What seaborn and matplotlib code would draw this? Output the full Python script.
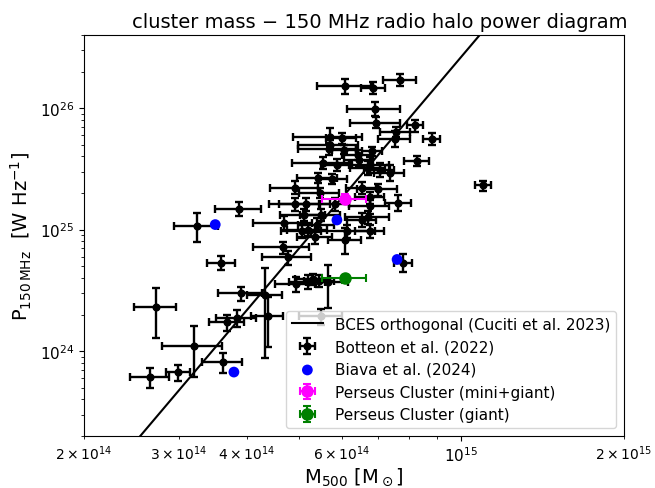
import numpy as np
import pandas as pd
import matplotlib
matplotlib.use("Agg")
import matplotlib.pyplot as plt
import seaborn as sns

plt.rcParams['font.family'] = ['DejaVu Sans']

# Botteon et al. (2022): M500 [1e14 Msun], error, P150 [1e24 W/Hz], error
bot_m = [6.09, 6.86, 7.70, 6.92, 6.95, 8.20, 8.82, 7.55, 7.53, 5.71,
         6.00, 5.71, 6.84, 6.43, 5.68, 6.06, 5.54, 5.88, 6.77, 6.71,
         7.06, 7.37, 8.27, 6.46, 5.43, 5.76, 4.92, 5.47, 6.54, 7.01,
         6.77, 7.63, 6.77, 4.92, 5.15, 5.83, 3.87, 5.10, 5.50, 6.71,
         6.54, 3.24, 4.70, 5.40, 5.07, 5.20, 5.36, 6.14, 6.09, 6.77,
         4.67, 4.77, 3.59, 7.79, 4.94, 5.31, 5.45, 5.66, 5.20, 3.91,
         4.33, 2.72, 3.84, 3.68, 4.38, 3.20, 3.62, 2.99, 2.65, 5.50,
         10.97]
bot_merr = [0.70, 0.35, 0.53, 0.77, 0.74, 0.28, 0.32, 0.48, 0.51, 0.83,
            0.38, 0.73, 0.29, 0.41, 0.70, 0.31, 0.69, 0.38, 0.58, 0.50,
            0.45, 0.47, 0.44, 0.40, 0.46, 0.37, 0.50, 0.47, 0.42, 0.60,
            0.43, 0.42, 0.58, 0.52, 0.55, 0.37, 0.38, 0.48, 0.47, 0.63,
            0.40, 0.30, 0.58, 0.41, 0.43, 0.44, 0.41, 0.79, 0.44, 0.43,
            0.56, 0.49, 0.21, 0.30, 0.42, 0.40, 0.35, 0.50, 0.40, 0.37,
            0.33, 0.24, 0.33, 0.27, 0.30, 0.41, 0.31, 0.15, 0.22, 0.50,
            0.37]
bot_p = [153, 147, 171, 99, 76, 72, 56, 64, 56, 58,
         57, 50, 44, 41.5, 46.5, 45.6, 35.6, 34.3, 34.3, 32.4,
         31.2, 29.5, 37.0, 37.7, 26.8, 26.3, 22.2, 20.2, 22.2, 21.4,
         18.4, 16.7, 15.5, 16.1, 16.1, 16.1, 14.9, 13.3, 13.3, 12.6,
         12.1, 10.8, 11.4, 11.0, 9.65, 10.0, 8.77, 9.65, 8.29, 9.65,
         7.13, 5.90, 5.36, 5.36, 3.54, 3.89, 3.81, 3.67, 3.74, 2.98,
         2.87, 2.29, 1.89, 1.72, 1.93, 1.11, 0.807, 0.668, 0.608, 1.93,
         23.1]
bot_perr = [22, 17, 19, 13, 8, 8, 6, 6, 8.5, 10,
            6, 5, 4, 4, 5, 4, 4, 4, 5, 4,
            4, 4.6, 3.5, 4, 2.5, 2.5, 2.7, 2, 2.5, 2.5,
            2, 2.5, 2, 2, 2, 2, 1.9, 1.5, 1.5, 1.5,
            1.5, 2.9, 1.5, 1.5, 1.2, 1.2, 1.2, 1.2, 2.0, 1.2,
            0.8, 0.8, 0.68, 0.88, 0.5, 0.4, 0.45, 1.4, 0.5, 0.4,
            2.0, 1.0, 0.3, 0.27, 0.85, 0.5, 0.15, 0.1, 0.115, 0.3,
            2.2]

# Biava et al. (2024)
bia_m = [3.50, 5.88, 7.60, 3.79]
bia_p = [11.0, 12.0, 5.68, 0.672]

# Perseus cluster
per_mg_m, per_mg_merr, per_mg_p, per_mg_perr = [6.09], [0.58], [18.0], [1.5]
per_g_m, per_g_merr, per_g_p, per_g_perr = [6.09], [0.58], [3.96], [0.3]

# BCES orthogonal fit (Cuciti et al. 2023), read at the plot edges
bces_m = [2.54, 10.78]
bces_p = [0.199, 394.0]

M_UNIT, P_UNIT = 1e14, 1e24

bot = pd.DataFrame({"M": np.array(bot_m) * M_UNIT, "Merr": np.array(bot_merr) * M_UNIT,
                    "P": np.array(bot_p) * P_UNIT, "Perr": np.array(bot_perr) * P_UNIT})
bia = pd.DataFrame({"M": np.array(bia_m) * M_UNIT, "P": np.array(bia_p) * P_UNIT})
bces = pd.DataFrame({"M": np.array(bces_m) * M_UNIT, "P": np.array(bces_p) * P_UNIT})

fig = plt.figure(figsize=(6.55, 4.89), dpi=100)
ax = fig.add_axes([84 / 655, 1 - 437 / 489, 540 / 655, 401 / 489])
ax.set_xscale("log")
ax.set_yscale("log")

sns.lineplot(data=bces, x="M", y="P", color="black", lw=1.5, ax=ax,
             label="BCES orthogonal (Cuciti et al. 2023)")
ax.errorbar(bot["M"], bot["P"], xerr=bot["Merr"], yerr=bot["Perr"],
            fmt="o", color="black", ms=4.8, elinewidth=1.7, capsize=3,
            capthick=1.7, label="Botteon et al. (2022)")
sns.scatterplot(data=bia, x="M", y="P", color="blue", s=60, edgecolor="none",
                ax=ax, label="Biava et al. (2024)", zorder=3)
ax.errorbar(np.array(per_mg_m) * M_UNIT, np.array(per_mg_p) * P_UNIT,
            xerr=np.array(per_mg_merr) * M_UNIT, yerr=np.array(per_mg_perr) * P_UNIT,
            fmt="o", color="magenta", ms=8, elinewidth=1.5, capsize=3, capthick=1.5,
            label="Perseus Cluster (mini+giant)", zorder=4)
ax.errorbar(np.array(per_g_m) * M_UNIT, np.array(per_g_p) * P_UNIT,
            xerr=np.array(per_g_merr) * M_UNIT, yerr=np.array(per_g_perr) * P_UNIT,
            fmt="o", color="green", ms=8, elinewidth=1.5, capsize=3, capthick=1.5,
            label="Perseus Cluster (giant)", zorder=4)

ax.set_xlim(2e14, 2e15)
ax.set_ylim(2e23, 4e26)
ax.set_xlabel(r"$\mathrm{M_{500}\ [M_\odot]}$", fontsize=14, labelpad=1)
ax.set_ylabel(r"$\mathrm{P_{150\,MHz}}$  [W Hz$^{-1}$]", fontsize=14)
ax.set_title("cluster mass \u2212 150 MHz radio halo power diagram", fontsize=14,
             x=0.548)
ax.tick_params(labelsize=11)

handles, labels = ax.get_legend_handles_labels()
order = ["BCES orthogonal (Cuciti et al. 2023)", "Botteon et al. (2022)",
         "Biava et al. (2024)", "Perseus Cluster (mini+giant)", "Perseus Cluster (giant)"]
hd = dict(zip(labels, handles))
ax.legend([hd[k] for k in order], order, loc="lower right", fontsize=11)

fig.savefig("out.png", dpi=100)
